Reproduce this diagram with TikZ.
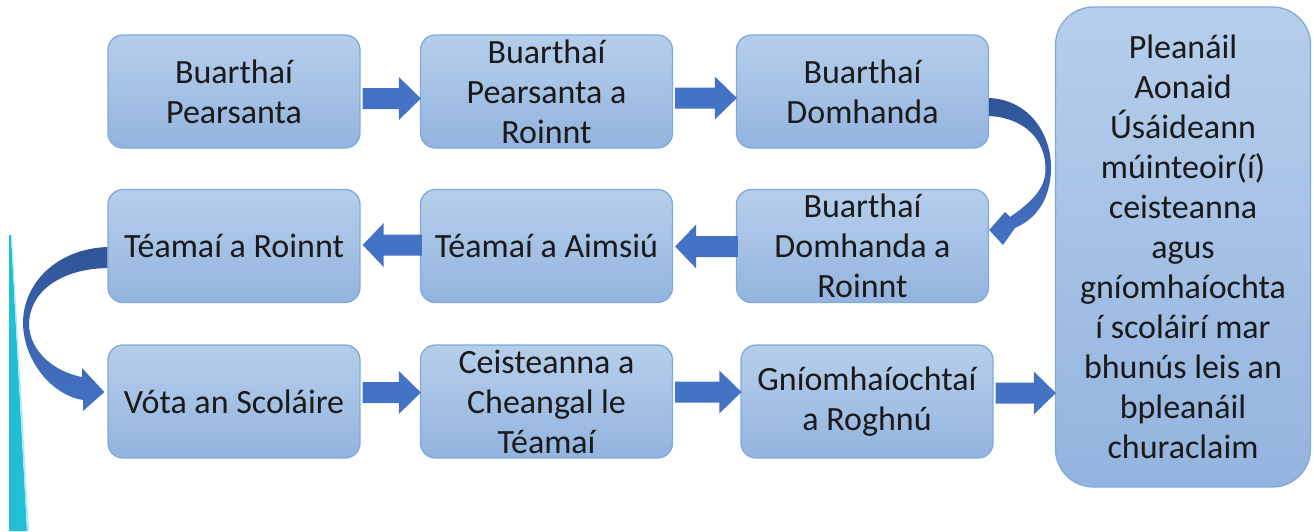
\documentclass[tikz,border=0pt]{standalone}
\usepackage{fontspec}
\setmainfont{Carlito}
\usetikzlibrary{calc}
\definecolor{boxtop}{HTML}{B6CEEB}
\definecolor{boxbot}{HTML}{93B4DF}
\definecolor{boxline}{HTML}{7FAADC}
\definecolor{arrowblue}{HTML}{4472C4}
\definecolor{arrowdark}{HTML}{2F5597}
\definecolor{teal}{HTML}{22BED6}
\definecolor{txt}{HTML}{1A1A1A}
\tikzset{
  stepbox/.style={rounded corners=15pt, draw=boxline, line width=1.3pt,
    top color=boxtop, bottom color=boxbot, minimum width=252pt, minimum height=113pt,
    inner sep=2pt, align=center, text=txt, font=\fontsize{34}{40}\selectfont},
  bigbox/.style={stepbox, rounded corners=38pt, minimum width=255pt, minimum height=480pt},
  flowarrow/.style={fill=arrowblue},
}
\newcommand\rarr[3]{%
  \path ($(#1.east|-0,#3)+(2,0)$) coordinate (s) ($(#2.west|-0,#3)+(1,0)$) coordinate (t);
  \fill[flowarrow] ($(s)+(0,-10.5)$) -- ($(t)+(-22,-10.5)$) -- ($(t)+(-22,-21.5)$) -- (t)
     -- ($(t)+(-22,21.5)$) -- ($(t)+(-22,10.5)$) -- ($(s)+(0,10.5)$) -- cycle;}
\newcommand\larr[3]{%
  \path ($(#1.west|-0,#3)+(2,0)$) coordinate (s) ($(#2.east|-0,#3)+(2,0)$) coordinate (t);
  \fill[flowarrow] ($(s)+(0,-10.5)$) -- ($(t)+(21,-10.5)$) -- ($(t)+(21,-22)$) -- (t)
     -- ($(t)+(21,22)$) -- ($(t)+(21,10.5)$) -- ($(s)+(0,10.5)$) -- cycle;}
\begin{document}
\begin{tikzpicture}[x=1pt,y=-1pt]
\useasboundingbox (0,0) rectangle (1314,531);
% teal wedge
\fill[teal] (9,235) -- (11,235) -- (27,531) -- (9,531) -- cycle;
\fill[teal!35] (11,235) -- (12,235) -- (29,531) -- (27,531) -- cycle;
% boxes
\node[stepbox] (A) at (234,91.5) {Buarthaí\\Pearsanta};
\node[stepbox] (B) at (546.5,91.5) {Buarthaí\\Pearsanta a\\Roinnt};
\node[stepbox] (C) at (862.5,91.5) {Buarthaí\\Domhanda};
\node[stepbox] (D) at (234,246) {Téamaí a Roinnt};
\node[stepbox] (E) at (546.5,246) {Téamaí a Aimsiú};
\node[stepbox] (F) at (862.5,246) {Buarthaí\\Domhanda a\\Roinnt};
\node[stepbox] (G) at (234,401.5) {Vóta an Scoláire};
\node[stepbox] (H) at (546.5,401.5) {Ceisteanna a\\Cheangal le\\Téamaí};
\node[stepbox] (I) at (867,401.5) {Gníomhaíochtaí\\a Roghnú};
\node[bigbox] (P) at (1183,247) {Pleanáil\\Aonaid\\Úsáideann\\múinteoir(í)\\ceisteanna\\agus\\gníomhaíochta\\í scoláirí mar\\bhunús leis an\\bpleanáil\\churaclaim};
% straight arrows
\rarr{A}{B}{98.5}
\rarr{B}{C}{98}
\larr{E}{D}{245}
\larr{F}{E}{246.5}
\rarr{G}{H}{392.5}
\rarr{H}{I}{392}
\rarr{I}{P}{393}
% curved arrow C -> F
\shade[top color=arrowdark, bottom color=arrowblue]
  ($(C.east)+(0,6.5)$) .. controls (1030,100) and (1052,135) .. (1051,170)
  .. controls (1050,200) and (1036,219) .. (1015,228) -- (1003,245) -- ($(F.east)+(0,-16)$)
  -- (1005,212) -- (1010,217) .. controls (1030,203) and (1045,190) .. (1045.5,170)
  .. controls (1046,140) and (1025,118) .. ($(C.east)+(0,24.5)$) -- cycle;
% curved arrow D -> G
\shade[top color=arrowdark, bottom color=arrowblue]
  ($(D.west)+(0,1)$) .. controls (55,249) and (22,285) .. (23,325)
  .. controls (25,365) and (55,396) .. (83,400) -- (83,411) -- ($(G.west)+(-3,-9.5)$)
  -- (82,368) -- (82,377) .. controls (55,372) and (30,352) .. (29,325)
  .. controls (29,292) and (60,269) .. ($(D.west)+(0,22)$) -- cycle;
\end{tikzpicture}
\end{document}
